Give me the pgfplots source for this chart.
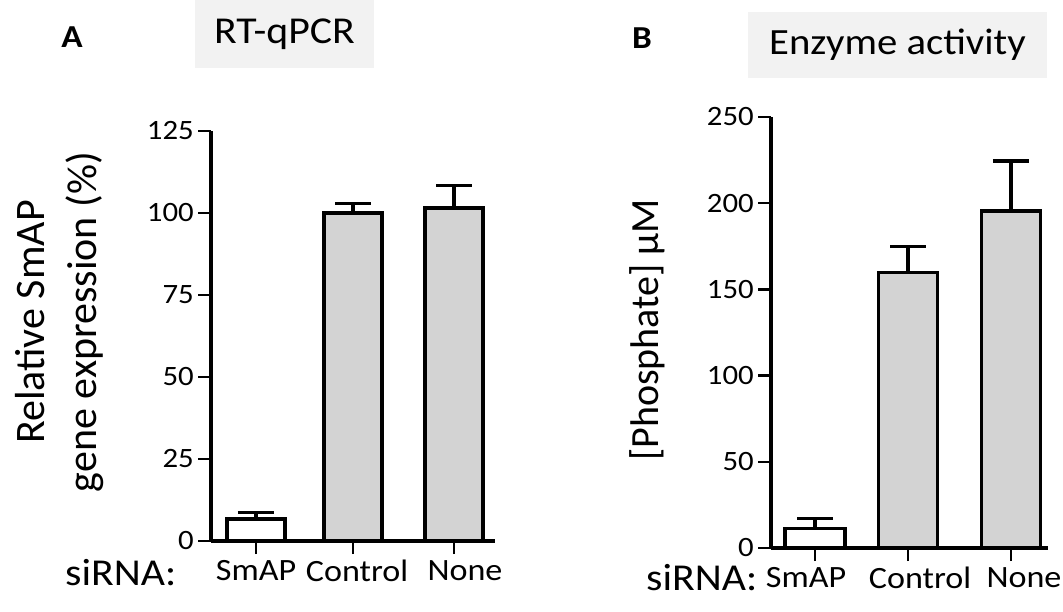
\documentclass[border=0pt]{standalone}
\usepackage{fontspec}
\setmainfont{Carlito}[FakeStretch=1.1]
\newfontfamily\rotfont{Carlito}
\usepackage{pgfplots}
\pgfplotsset{compat=1.18}
\definecolor{barg}{RGB}{211,211,211}
\definecolor{boxg}{RGB}{242,242,242}
\pgfplotsset{
  prism/.style={
    scale only axis,
    axis x line=bottom, axis y line=left,
    axis line style={-, line width=3.2pt, black},
    tick align=outside, major tick length=13pt,
    tick style={line width=2.6pt, black},
    /pgf/number format/assume math mode=true,
    yticklabel style={font=\fontsize{28}{30}\selectfont, inner sep=4pt},
    xticklabel style={font=\fontsize{31}{34}\selectfont, inner sep=3pt, yshift=-3pt},
    ymin=0, clip=false,
  },
  pbar/.style={ybar, bar width=#1, bar shift=0pt, draw=black, line width=3.2pt,
    error bars/y dir=plus, error bars/y explicit,
    error bars/error bar style={line width=3.2pt, black},
    error bars/error mark options={rotate=90, mark size=18pt, line width=3.2pt, black}},
}
\begin{document}
\begin{tikzpicture}
\useasboundingbox (0,0) rectangle (1063pt,-612pt);
% panel letters and titles
\node[font=\fontsize{32}{34}\selectfont\bfseries] at (72pt,-37pt) {A};
\node[font=\fontsize{32}{34}\selectfont\bfseries] at (642pt,-38pt) {B};
\node[fill=boxg, minimum width=179pt, minimum height=68pt, inner sep=0pt,
  font=\fontsize{38}{40}\selectfont] at (284.5pt,-34pt) {RT-qPCR};
\node[fill=boxg, minimum width=299pt, minimum height=66pt, inner sep=0pt,
  font=\fontsize{37}{40}\selectfont] at (897.5pt,-45pt) {Enzyme activity};

% Panel A
\begin{axis}[prism,
  at={(211pt,-541pt)}, anchor=south west,
  width=284pt, height=410pt,
  xmin=-0.4545, xmax=2.414, ymax=125,
  ytick={0,25,50,75,100,125},
  xtick={0,0.98,2},
  xticklabels={SmAP,\hspace*{8pt}Control,\hspace*{22pt}None},
  ylabel={Relative SmAP\\gene expression (\%)},
  every axis y label/.style={at={(axis description cs:-0.535,0.534)}, rotate=90,
    anchor=center, align=center, font=\rotfont\fontsize{42}{52}\selectfont},
]
\addplot[fill=white, pbar=58pt] coordinates {(0,6.7) +- (0,2.1)};
\addplot[fill=barg, pbar=58pt] coordinates {(0.98,100) +- (0,3) (2,101.5) +- (0,7)};
\draw[line width=3.2pt] (axis cs:-0.4545,0) -- ++(-21pt,0);
\end{axis}
\node[anchor=base west, inner sep=0pt, font=\fontsize{38}{40}\selectfont] at (65pt,-585pt) {siRNA:};

% Panel B
\begin{axis}[prism,
  at={(771pt,-548pt)}, anchor=south west,
  width=277pt, height=431pt,
  xmin=-0.449, xmax=2.378, ymax=250,
  ytick={0,50,100,150,200,250},
  xtick={0,0.95,2},
  xticklabels={SmAP\hspace*{18pt},\hspace*{24pt}Control,\hspace*{26pt}None},
  ylabel={[Phosphate] µM},
  every axis y label/.style={at={(axis description cs:-0.448,0.506)}, rotate=90,
    anchor=center, font=\rotfont\fontsize{40}{44}\selectfont},
]
\addplot[fill=white, pbar=60pt] coordinates {(0,11.3) +- (0,6)};
\addplot[fill=barg, pbar=59pt] coordinates {(0.95,160) +- (0,15) (2,195.5) +- (0,29)};
\draw[line width=3.2pt] (axis cs:-0.449,0) -- ++(-18pt,0);
\end{axis}
\node[anchor=base west, inner sep=0pt, font=\fontsize{38}{40}\selectfont] at (646pt,-590pt) {siRNA:};
\end{tikzpicture}
\end{document}
